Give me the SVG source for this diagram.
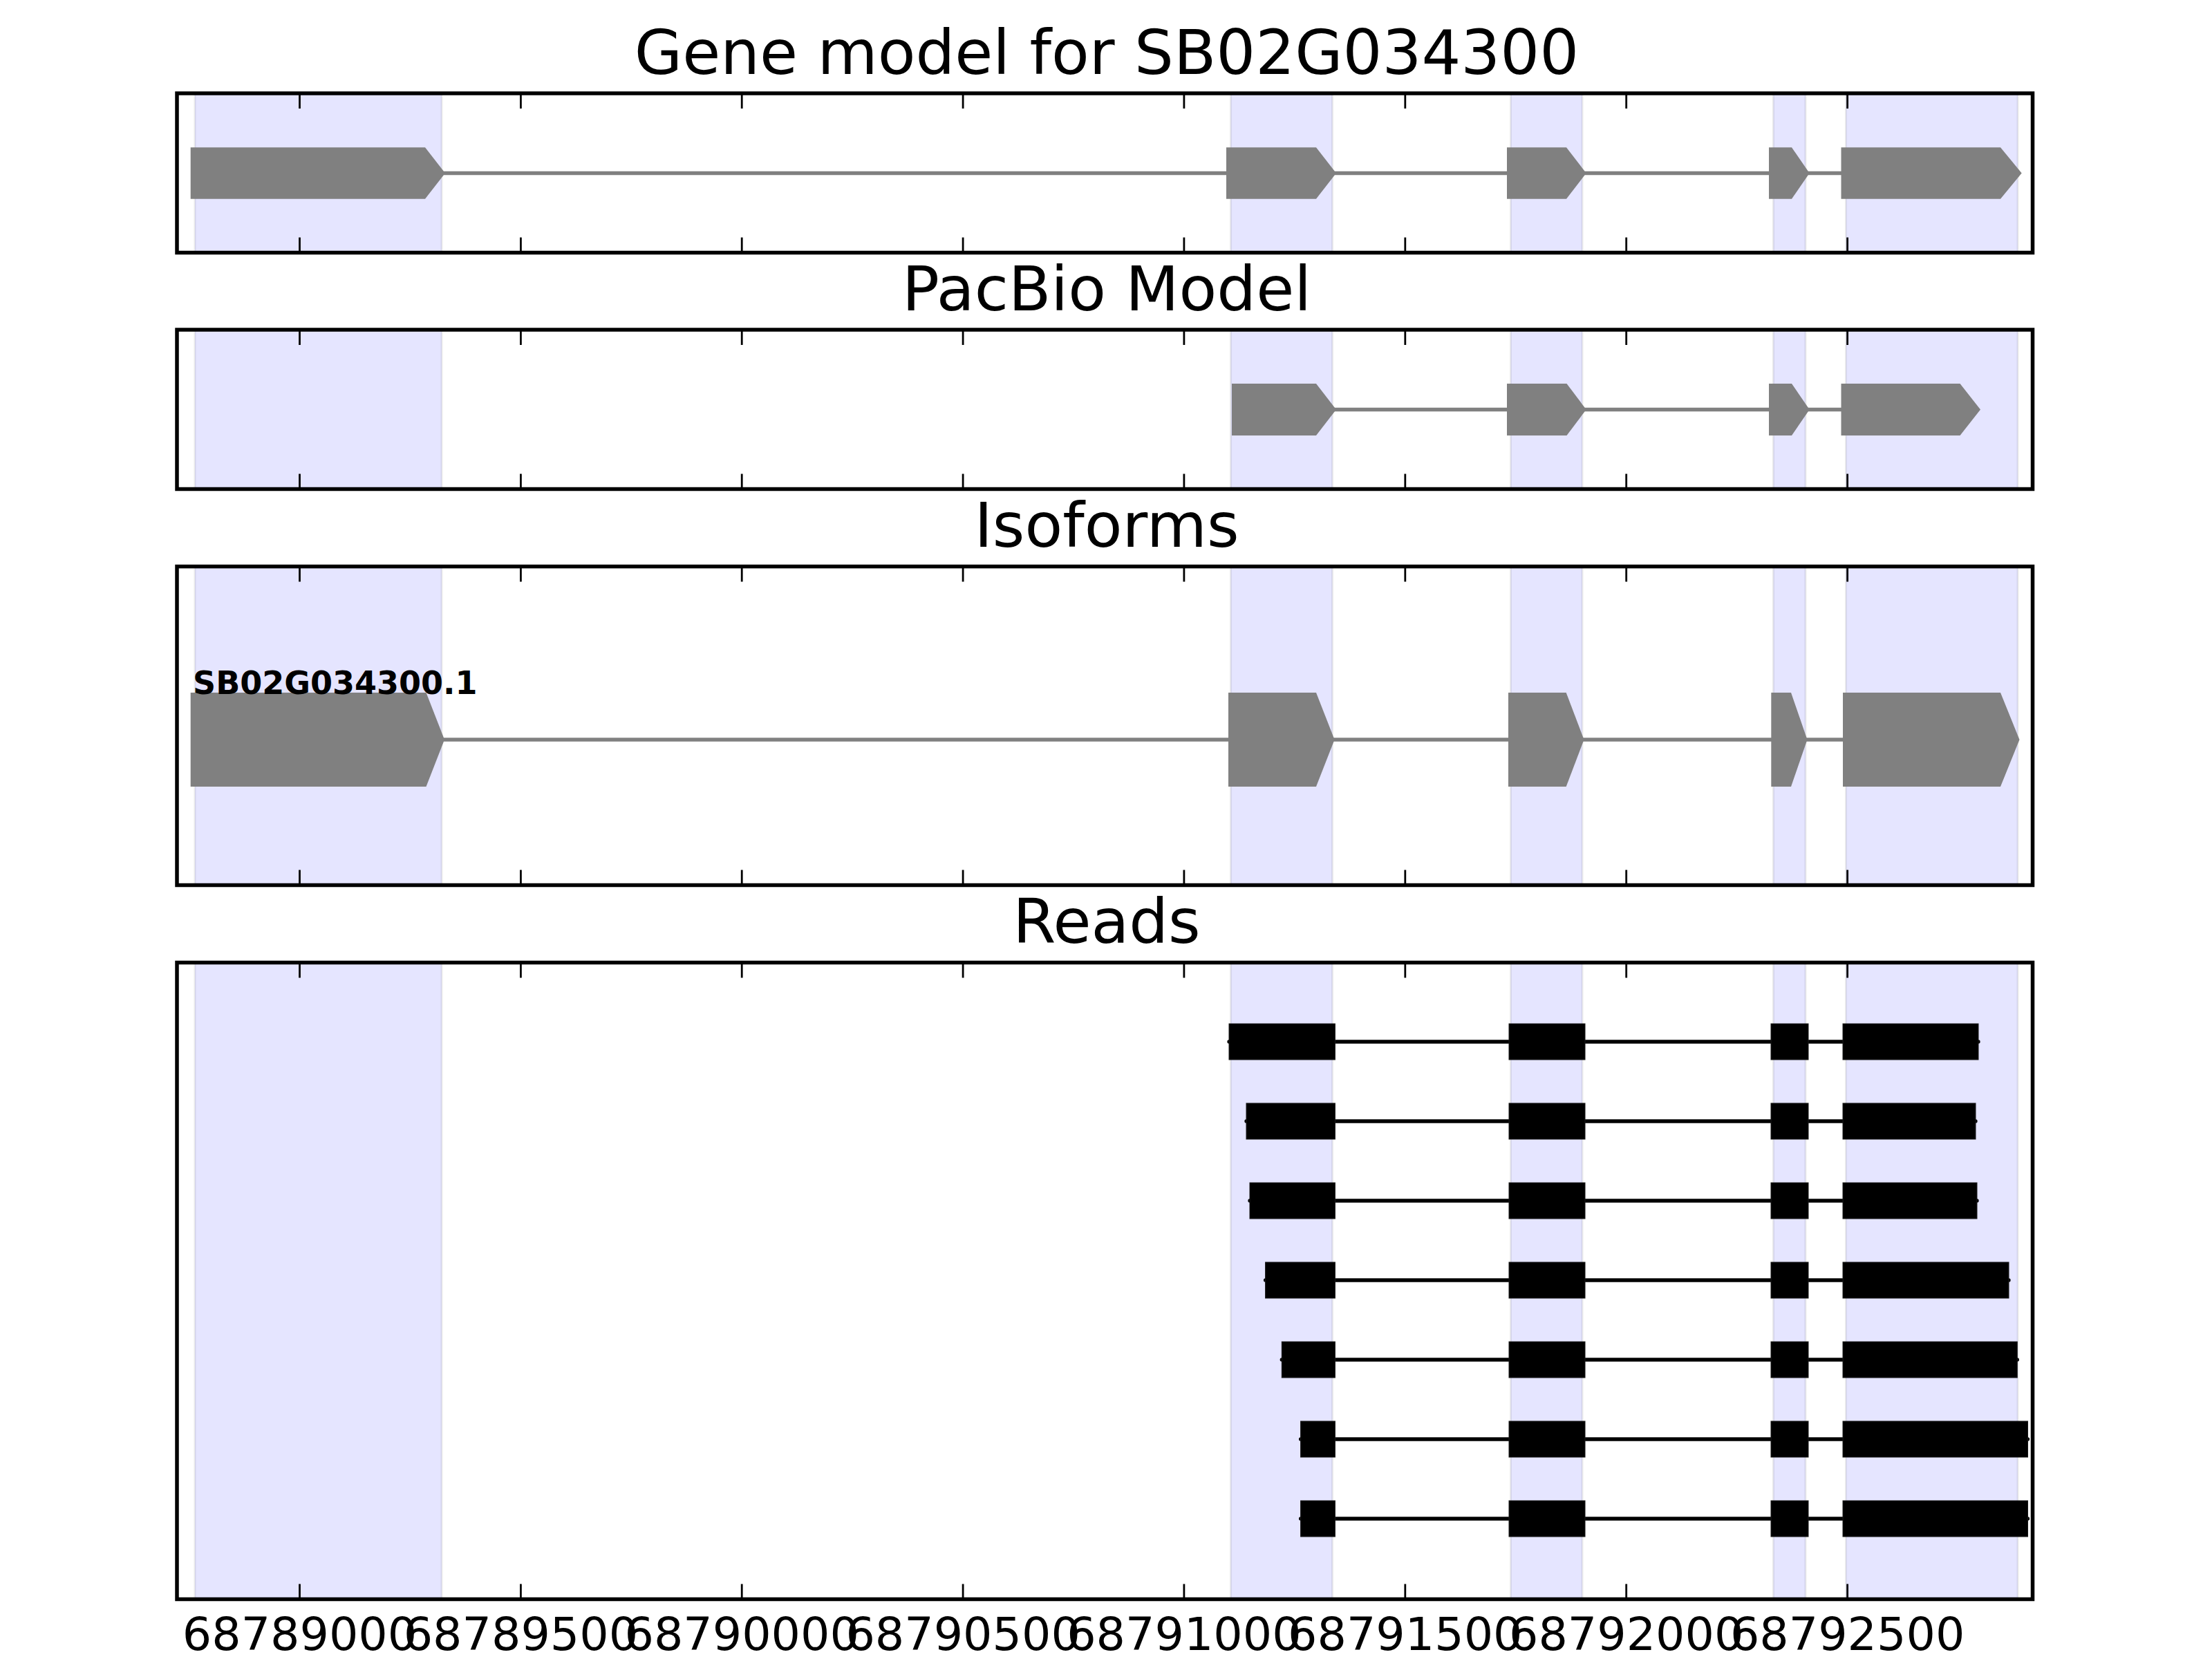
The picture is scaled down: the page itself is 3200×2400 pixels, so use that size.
<svg xmlns="http://www.w3.org/2000/svg" width="3200" height="2400" viewBox="0 0 3200 2400">
<style>
.t{font-family:"DejaVu Sans",sans-serif;font-size:89.5px;text-anchor:middle;fill:#000}
.tl{font-family:"DejaVu Sans",sans-serif;font-size:66.7px;text-anchor:middle;fill:#000}
.lab{font-family:"DejaVu Sans",sans-serif;font-size:46px;font-weight:bold;fill:#000}
.span{fill:#0000ff;fill-opacity:0.1;stroke:#000;stroke-opacity:0.08;stroke-width:3}
.ex{fill:#808080;stroke:none}
.intr{stroke:#808080;stroke-width:5.5;fill:none}
.rd{fill:#000;stroke:#1a1a1a;stroke-width:1}
.rl{stroke:#000;stroke-width:5.3;stroke-linecap:round;fill:none}
.frame{fill:none;stroke:#000;stroke-width:5.5}
.tick{stroke:#000;stroke-width:2.8}
</style>
<defs>
<g id="ticksTop">
<line class="tick" x1="433.5" y1="0" x2="433.5" y2="22"/>
<line class="tick" x1="753.4" y1="0" x2="753.4" y2="22"/>
<line class="tick" x1="1073.2" y1="0" x2="1073.2" y2="22"/>
<line class="tick" x1="1393.1" y1="0" x2="1393.1" y2="22"/>
<line class="tick" x1="1712.9" y1="0" x2="1712.9" y2="22"/>
<line class="tick" x1="2032.8" y1="0" x2="2032.8" y2="22"/>
<line class="tick" x1="2352.7" y1="0" x2="2352.7" y2="22"/>
<line class="tick" x1="2672.6" y1="0" x2="2672.6" y2="22"/>
</g>
<g id="ticksBot">
<line class="tick" x1="433.5" y1="-22" x2="433.5" y2="0"/>
<line class="tick" x1="753.4" y1="-22" x2="753.4" y2="0"/>
<line class="tick" x1="1073.2" y1="-22" x2="1073.2" y2="0"/>
<line class="tick" x1="1393.1" y1="-22" x2="1393.1" y2="0"/>
<line class="tick" x1="1712.9" y1="-22" x2="1712.9" y2="0"/>
<line class="tick" x1="2032.8" y1="-22" x2="2032.8" y2="0"/>
<line class="tick" x1="2352.7" y1="-22" x2="2352.7" y2="0"/>
<line class="tick" x1="2672.6" y1="-22" x2="2672.6" y2="0"/>
</g>
</defs>
<rect width="3200" height="2400" fill="#fff"/>

<!-- Panel 1: Gene model -->
<g id="panel-gene-model">
<text class="t" x="1601" y="107">Gene model for SB02G034300</text>
<rect class="span" x="282" y="135" width="357" height="230.5"/>
<rect class="span" x="1780.5" y="135" width="147" height="230.5"/>
<rect class="span" x="2185.5" y="135" width="103.5" height="230.5"/>
<rect class="span" x="2565.5" y="135" width="46.5" height="230.5"/>
<rect class="span" x="2670.5" y="135" width="248.5" height="230.5"/>
<g id="gene-model-connectors">
<line class="intr" x1="640" y1="250.5" x2="2920" y2="250.5"/>
</g>
<g id="gm-exon1"><polygon class="ex" points="275.7,213.3 615,213.3 644,250.5 615,287.7 275.7,287.7"/></g>
<g id="gm-exon2"><polygon class="ex" points="1774,213.3 1904,213.3 1933,250.5 1904,287.7 1774,287.7"/></g>
<g id="gm-exon3"><polygon class="ex" points="2180,213.3 2266,213.3 2294.7,250.5 2266,287.7 2180,287.7"/></g>
<g id="gm-exon4"><polygon class="ex" points="2559,213.3 2592,213.3 2617.7,250.5 2592,287.7 2559,287.7"/></g>
<g id="gm-exon5"><polygon class="ex" points="2663.5,213.3 2894,213.3 2924.7,250.5 2894,287.7 2663.5,287.7"/></g>
<use href="#ticksTop" y="135"/>
<use href="#ticksBot" y="365.5"/>
<rect class="frame" x="256" y="135" width="2684.5" height="230.5"/>
</g>

<!-- Panel 2: PacBio Model -->
<g id="panel-pacbio">
<text class="t" x="1601" y="449">PacBio Model</text>
<rect class="span" x="282" y="477" width="357" height="230.5"/>
<rect class="span" x="1780.5" y="477" width="147" height="230.5"/>
<rect class="span" x="2185.5" y="477" width="103.5" height="230.5"/>
<rect class="span" x="2565.5" y="477" width="46.5" height="230.5"/>
<rect class="span" x="2670.5" y="477" width="248.5" height="230.5"/>
<g id="pacbio-connectors">
<line class="intr" x1="1930" y1="592.5" x2="2860" y2="592.5"/>
</g>
<g id="pb-exon1"><polygon class="ex" points="1782,555 1904,555 1933,592.5 1904,630 1782,630"/></g>
<g id="pb-exon2"><polygon class="ex" points="2180,555 2266.5,555 2294.7,592.5 2266.5,630 2180,630"/></g>
<g id="pb-exon3"><polygon class="ex" points="2559,555 2592,555 2617.7,592.5 2592,630 2559,630"/></g>
<g id="pb-exon4"><polygon class="ex" points="2663.5,555 2835.5,555 2865,592.5 2835.5,630 2663.5,630"/></g>
<use href="#ticksTop" y="477"/>
<use href="#ticksBot" y="707.5"/>
<rect class="frame" x="256" y="477" width="2684.5" height="230.5"/>
</g>

<!-- Panel 3: Isoforms -->
<g id="panel-isoforms">
<text class="t" x="1601" y="791">Isoforms</text>
<rect class="span" x="282" y="819.5" width="357" height="461"/>
<rect class="span" x="1780.5" y="819.5" width="147" height="461"/>
<rect class="span" x="2185.5" y="819.5" width="103.5" height="461"/>
<rect class="span" x="2565.5" y="819.5" width="46.5" height="461"/>
<rect class="span" x="2670.5" y="819.5" width="248.5" height="461"/>
<g id="isoform-connectors">
<line class="intr" x1="640" y1="1070" x2="2918" y2="1070"/>
</g>
<g id="iso-exon1"><polygon class="ex" points="275.7,1002 616.5,1002 643,1070 616.5,1138 275.7,1138"/></g>
<g id="iso-exon2"><polygon class="ex" points="1777,1002 1904,1002 1930.6,1070 1904,1138 1777,1138"/></g>
<g id="iso-exon3"><polygon class="ex" points="2182,1002 2265.7,1002 2291.5,1070 2265.7,1138 2182,1138"/></g>
<g id="iso-exon4"><polygon class="ex" points="2562.3,1002 2591,1002 2614.5,1070 2591,1138 2562.3,1138"/></g>
<g id="iso-exon5"><polygon class="ex" points="2666,1002 2894,1002 2921.5,1070 2894,1138 2666,1138"/></g>
<text class="lab" x="279" y="1004">SB02G034300.1</text>
<use href="#ticksTop" y="819.5"/>
<use href="#ticksBot" y="1280.5"/>
<rect class="frame" x="256" y="819.5" width="2684.5" height="461"/>
</g>

<!-- Panel 4: Reads -->
<g id="panel-reads">
<text class="t" x="1601" y="1364">Reads</text>
<rect class="span" x="282" y="1392.5" width="357" height="921"/>
<rect class="span" x="1780.5" y="1392.5" width="147" height="921"/>
<rect class="span" x="2185.5" y="1392.5" width="103.5" height="921"/>
<rect class="span" x="2565.5" y="1392.5" width="46.5" height="921"/>
<rect class="span" x="2670.5" y="1392.5" width="248.5" height="921"/>
<g id="read-connectors">
<line class="rl" x1="1778" y1="1507" x2="2862" y2="1507"/>
<line class="rl" x1="1803" y1="1622" x2="2858" y2="1622"/>
<line class="rl" x1="1808" y1="1737" x2="2860" y2="1737"/>
<line class="rl" x1="1830.6" y1="1852" x2="2906" y2="1852"/>
<line class="rl" x1="1854.3" y1="1967" x2="2918.3" y2="1967"/>
<line class="rl" x1="1881.6" y1="2082" x2="2933.5" y2="2082"/>
<line class="rl" x1="1881.6" y1="2197" x2="2933.5" y2="2197"/>
</g>
<g id="read1">
<rect class="rd" x="1778" y="1481" width="153.4" height="52"/>
<rect class="rd" x="2183" y="1481" width="110" height="52"/>
<rect class="rd" x="2562" y="1481" width="54" height="52"/>
<rect class="rd" x="2666" y="1481" width="196" height="52"/>
</g>
<g id="read2">
<rect class="rd" x="1803" y="1596" width="128.4" height="52"/>
<rect class="rd" x="2183" y="1596" width="110" height="52"/>
<rect class="rd" x="2562" y="1596" width="54" height="52"/>
<rect class="rd" x="2666" y="1596" width="192" height="52"/>
</g>
<g id="read3">
<rect class="rd" x="1808" y="1711" width="123.4" height="52"/>
<rect class="rd" x="2183" y="1711" width="110" height="52"/>
<rect class="rd" x="2562" y="1711" width="54" height="52"/>
<rect class="rd" x="2666" y="1711" width="194" height="52"/>
</g>
<g id="read4">
<rect class="rd" x="1830.6" y="1826" width="100.8" height="52"/>
<rect class="rd" x="2183" y="1826" width="110" height="52"/>
<rect class="rd" x="2562" y="1826" width="54" height="52"/>
<rect class="rd" x="2666" y="1826" width="240" height="52"/>
</g>
<g id="read5">
<rect class="rd" x="1854.3" y="1941" width="77.1" height="52"/>
<rect class="rd" x="2183" y="1941" width="110" height="52"/>
<rect class="rd" x="2562" y="1941" width="54" height="52"/>
<rect class="rd" x="2666" y="1941" width="252.3" height="52"/>
</g>
<g id="read6">
<rect class="rd" x="1881.6" y="2056" width="49.8" height="52"/>
<rect class="rd" x="2183" y="2056" width="110" height="52"/>
<rect class="rd" x="2562" y="2056" width="54" height="52"/>
<rect class="rd" x="2666" y="2056" width="267.5" height="52"/>
</g>
<g id="read7">
<rect class="rd" x="1881.6" y="2171" width="49.8" height="52"/>
<rect class="rd" x="2183" y="2171" width="110" height="52"/>
<rect class="rd" x="2562" y="2171" width="54" height="52"/>
<rect class="rd" x="2666" y="2171" width="267.5" height="52"/>
</g>
<use href="#ticksTop" y="1392.5"/>
<use href="#ticksBot" y="2313.5"/>
<rect class="frame" x="256" y="1392.5" width="2684.5" height="921"/>
</g>

<g id="x-axis-labels">
<text class="tl" x="433.5" y="2387">68789000</text>
<text class="tl" x="753.4" y="2387">68789500</text>
<text class="tl" x="1073.2" y="2387">68790000</text>
<text class="tl" x="1393.1" y="2387">68790500</text>
<text class="tl" x="1712.9" y="2387">68791000</text>
<text class="tl" x="2032.8" y="2387">68791500</text>
<text class="tl" x="2352.7" y="2387">68792000</text>
<text class="tl" x="2672.6" y="2387">68792500</text>
</g>
</svg>
